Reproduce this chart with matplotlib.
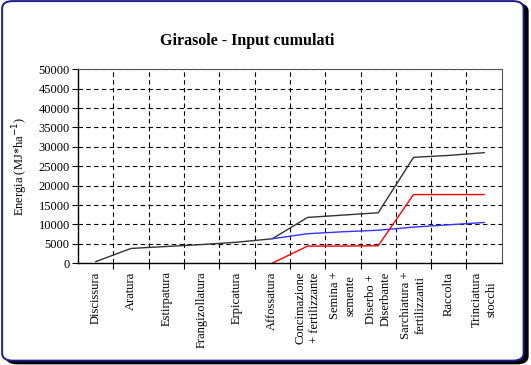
"""Girasole - input energetici cumulati per operazione colturale."""

import matplotlib
matplotlib.use("Agg")
import matplotlib.pyplot as plt
import numpy as np
from matplotlib.patches import FancyBboxPatch

plt.rcParams["font.family"] = ["Liberation Serif", "DejaVu Serif"]

operazioni = [
    "Discissura", "Aratura", "Estirpatura", "Frangizollatura", "Erpicatura",
    "Affossatura", "Concimazione\n+ fertilizzante", "Semina +\nsemente",
    "Diserbo +\nDiserbante", "Sarchiatura +\nfertilizzanti", "Raccolta",
    "Trinciatura\nstocchi",
]
totale = [400, 3800, 4300, 4800, 5400, 6300, 11800, 12400, 13000, 27300, 27800, 28500]
chimici = [np.nan] * 5 + [0, 4400, 4400, 4500, 17700, 17700, 17700]
meccanici = [np.nan] * 5 + [6300, 7600, 8100, 8500, 9300, 9900, 10500]
y_ticks = list(range(0, 50001, 5000))

fig = plt.figure(figsize=(5.31, 3.65), dpi=100)

# cornice arrotondata con ombra
fig.patches.append(FancyBboxPatch((0.012, 0.004), 0.982, 0.985, boxstyle="round,pad=0,rounding_size=0.02",
                                  transform=fig.transFigure, facecolor="black", edgecolor="black",
                                  lw=1.2, zorder=-2))
fig.patches.append(FancyBboxPatch((0.004, 0.012), 0.982, 0.985, boxstyle="round,pad=0,rounding_size=0.02",
                                  transform=fig.transFigure, facecolor="white", edgecolor="#1c1c8c",
                                  lw=1.4, zorder=-1))

ax = fig.add_axes([0.147, 0.279, 0.798, 0.531])
ax.patch.set_alpha(0)
x = np.arange(len(operazioni))

ax.plot(x, totale, color="#333333", lw=1.0)
ax.plot(x, meccanici, color="#3333ff", lw=1.0)
ax.plot(x, chimici, color="red", lw=1.0)

ax.set_xlim(-0.5, len(operazioni) - 0.5)
ax.set_ylim(0, 50000)
ax.set_yticks(y_ticks)
ax.set_yticklabels([str(v) for v in y_ticks], fontsize=9)
ax.set_xticks(x)
ax.set_xticklabels(operazioni, rotation=90, fontsize=9, va="top", ha="center", linespacing=1.35)
ax.set_xticks(np.arange(0.5, len(operazioni) - 1, 1), minor=True)
ax.tick_params(axis="x", which="major", length=0, pad=6)
ax.tick_params(axis="x", which="minor", length=4, width=0.8, direction="out")
ax.tick_params(axis="y", length=4, width=0.8, direction="out", pad=2)

ax.grid(True, axis="y", which="major", color="black", lw=0.8, linestyle=(0, (4, 3)))
ax.grid(True, axis="x", which="minor", color="black", lw=0.8, linestyle=(0, (4, 3)))
ax.set_axisbelow(True)
for side in ["top", "right"]:
    ax.spines[side].set_color("#555555")
    ax.spines[side].set_linewidth(0.8)
for side in ["left", "bottom"]:
    ax.spines[side].set_linewidth(1.0)

ax.set_ylabel("Energia (MJ*ha$^{-1}$)", fontsize=9, labelpad=6)
fig.text(0.465, 0.888, "Girasole - Input cumulati", ha="center", va="center",
         fontsize=11.5, fontweight="bold")

plt.savefig("out.png", dpi=100)
